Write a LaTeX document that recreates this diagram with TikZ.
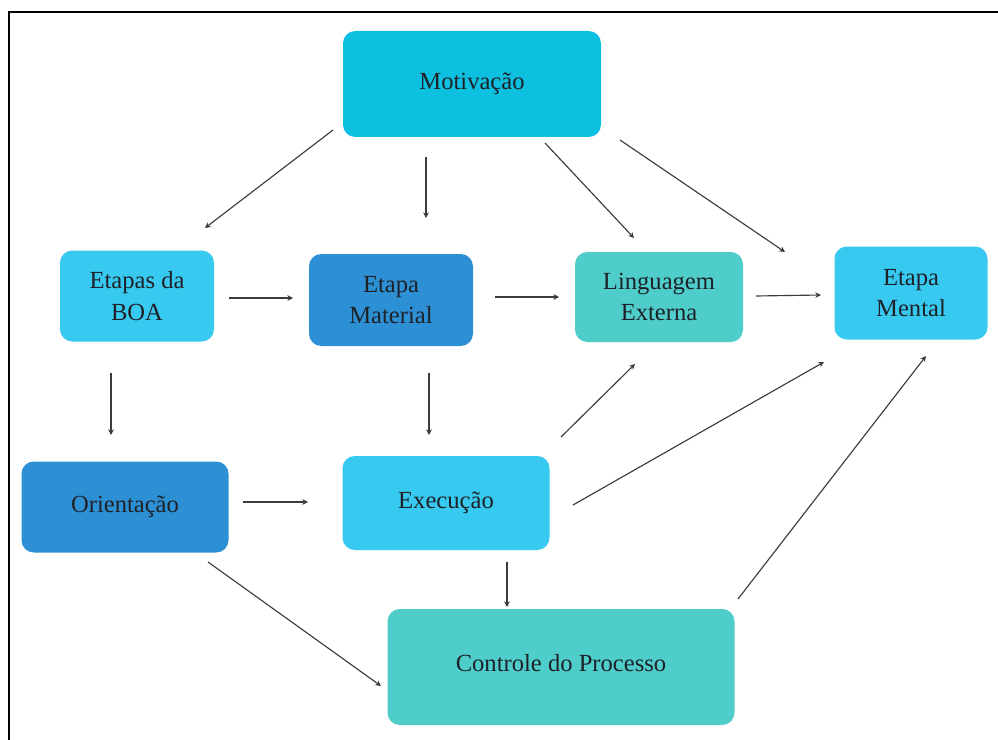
\documentclass[tikz,border=0pt]{standalone}
\usepackage{fontspec}
\setmainfont{Liberation Serif}
\usetikzlibrary{arrows.meta}
\definecolor{cMot}{RGB}{14,192,224}
\definecolor{cSky}{RGB}{56,201,240}
\definecolor{cBlue}{RGB}{46,144,212}
\definecolor{cTeal}{RGB}{78,205,203}
\definecolor{cTxt}{RGB}{30,34,40}
\definecolor{cArr}{RGB}{60,60,60}
\tikzset{
  box/.style={rectangle, rounded corners=7pt, draw=none, align=center,
    text=cTxt, font=\fontsize{14}{18}\selectfont, inner sep=0pt},
  conn/.style={draw=cArr, line width=0.65pt, -{Stealth[length=3.2pt,width=3.2pt]}},
  frameline/.style={draw=black, line width=1.3pt}
}
\begin{document}
\begin{tikzpicture}[x=0.02cm,y=-0.02cm]
\useasboundingbox (0,0) rectangle (998,740);
\fill[white] (0,0) rectangle (998,740);
% frame
\draw[frameline] (998,12) -- (9,12) -- (9,740);
% nodes
\node[box, fill=cMot, minimum width=258*0.02cm, minimum height=106*0.02cm] (mot) at (472,84) {Motivação};
\node[box, fill=cSky, minimum width=154*0.02cm, minimum height=91*0.02cm] (boa) at (137,296) {Etapas da\\BOA};
\node[box, fill=cBlue, minimum width=164*0.02cm, minimum height=92*0.02cm] (mat) at (391,300) {Etapa\\Material};
\node[box, fill=cTeal, minimum width=168*0.02cm, minimum height=90*0.02cm] (lin) at (659,297) {Linguagem\\Externa};
\node[box, fill=cSky, minimum width=153*0.02cm, minimum height=93*0.02cm] (men) at (911,293) {Etapa\\Mental};
\node[box, fill=cBlue, minimum width=207*0.02cm, minimum height=91*0.02cm] (ori) at (125,507) {Orientação};
\node[box, fill=cSky, minimum width=207*0.02cm, minimum height=94*0.02cm] (exe) at (446,503) {Execução};
\node[box, fill=cTeal, minimum width=347*0.02cm, minimum height=116*0.02cm] (con) at (561,667) {};
\node[box] (contxt) at (561,663) {Controle do Processo};
% connector end points
\coordinate (a1s) at (333,130); \coordinate (a1e) at (205,228);
\coordinate (a2s) at (426,157); \coordinate (a2e) at (426,218);
\coordinate (a3s) at (545,143); \coordinate (a3e) at (634,238);
\coordinate (a4s) at (620,140); \coordinate (a4e) at (785,252);
\coordinate (a5s) at (229,298); \coordinate (a5e) at (293,298);
\coordinate (a6s) at (495,297); \coordinate (a6e) at (559,297);
\coordinate (a7s) at (756,296); \coordinate (a7e) at (821,295);
\coordinate (a8s) at (111,373); \coordinate (a8e) at (111,435);
\coordinate (a9s) at (429,373); \coordinate (a9e) at (429,435);
\coordinate (a10s) at (561,437); \coordinate (a10e) at (635,364);
\coordinate (a11s) at (573,505); \coordinate (a11e) at (824,362);
\coordinate (a12s) at (738,599); \coordinate (a12e) at (926,356);
\coordinate (a13s) at (243,502); \coordinate (a13e) at (308,502);
\coordinate (a14s) at (208,562); \coordinate (a14e) at (381,686);
\coordinate (a15s) at (507,562); \coordinate (a15e) at (507,607);
% connectors
\draw[conn] (a1s) -- (a1e);
\draw[conn] (a2s) -- (a2e);
\draw[conn] (a3s) -- (a3e);
\draw[conn] (a4s) -- (a4e);
\draw[conn] (a5s) -- (a5e);
\draw[conn] (a6s) -- (a6e);
\draw[conn] (a7s) -- (a7e);
\draw[conn] (a8s) -- (a8e);
\draw[conn] (a9s) -- (a9e);
\draw[conn] (a10s) -- (a10e);
\draw[conn] (a11s) -- (a11e);
\draw[conn] (a12s) -- (a12e);
\draw[conn] (a13s) -- (a13e);
\draw[conn] (a14s) -- (a14e);
\draw[conn] (a15s) -- (a15e);
\end{tikzpicture}
\end{document}
